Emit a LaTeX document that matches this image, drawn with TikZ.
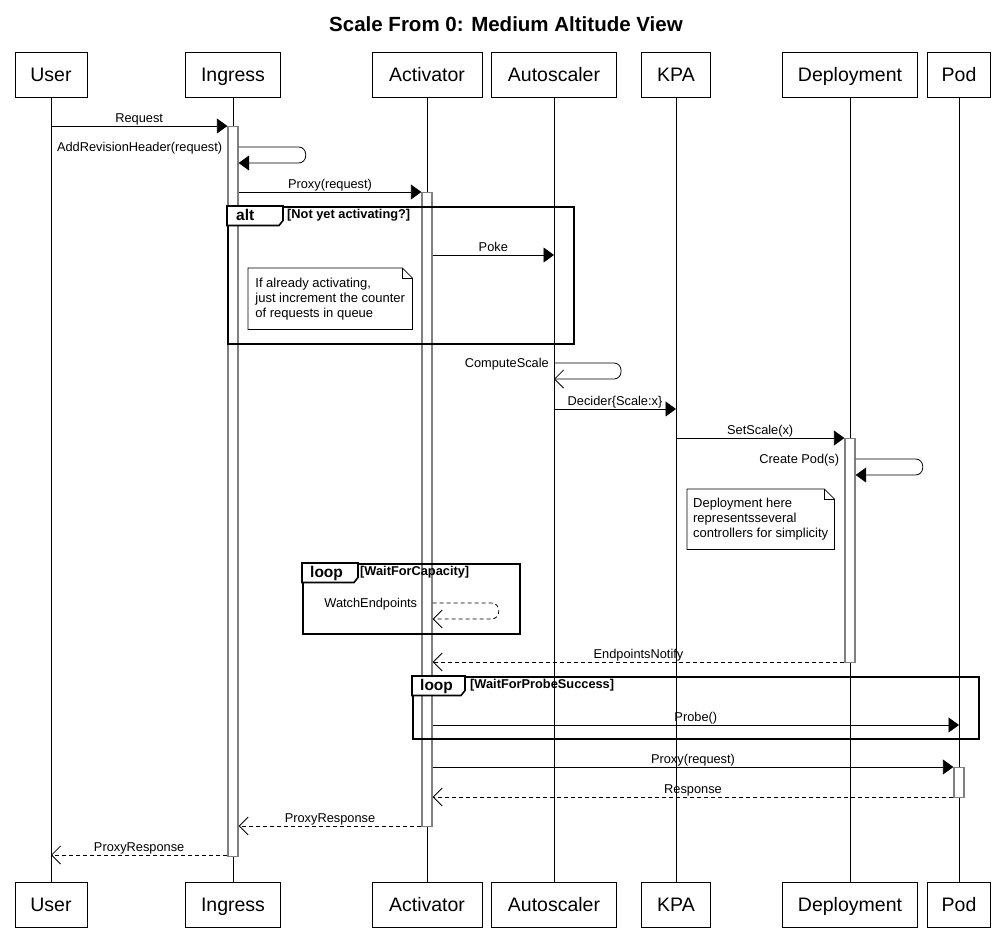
\documentclass[tikz,border=0pt]{standalone}
\usepackage{fontspec}
\setmainfont{Liberation Sans}
\usetikzlibrary{arrows.meta,calc}
\newcommand\msgfont{\fontsize{12.8}{15}\selectfont}
\newcommand\notefont{\fontsize{13}{15}\selectfont}
\newcommand\partfont{\fontsize{19.5}{22}\selectfont}
\newcommand\titlefont{\fontsize{20.5}{24}\selectfont\bfseries}
\newcommand\tabfont{\fontsize{15.5}{18}\selectfont\bfseries}
\newcommand\condfont{\fontsize{12.8}{15}\selectfont\bfseries}
\begin{document}
\begin{tikzpicture}[x=1pt,y=-1pt,
  part/.style={draw=black, line width=0.8pt, fill=white, minimum height=45pt, inner sep=0pt, text height=14pt, text depth=0pt, font=\partfont},
  life/.style={line width=0.8pt},
  actbar/.style={draw=black!50, line width=1.3pt, fill=white, minimum width=10pt, inner sep=0pt, anchor=north},
  msg/.style={line width=0.8pt, -{Triangle[length=10.5pt,width=15pt]}},
  opn/.style={line width=0.8pt, -{Straight Barb[length=9pt,width=18pt,line width=0.8pt]}},
  ret/.style={opn, dash pattern=on 4pt off 3pt},
  lbl/.style={font=\msgfont, inner sep=0pt, anchor=base},
  slbl/.style={font=\msgfont, inner sep=0pt, anchor=base east},
  frm/.style={draw=black, line width=1.6pt, inner sep=0pt, anchor=north west},
  tabbox/.style={draw=black, line width=1.6pt, fill=white, line join=miter},
  tablbl/.style={font=\tabfont, inner sep=0pt, anchor=base west},
  cond/.style={font=\condfont, inner sep=0pt, anchor=base west},
  notebox/.style={font=\notefont, align=left, inner sep=0pt, anchor=north west},
  noteline/.style={draw=black, line width=0.8pt, fill=white, line join=miter}
]
\useasboundingbox (0,0) rectangle (1006,951);

% title
\node[font=\titlefont, inner sep=0pt, anchor=base] (title) at (506,31) {Scale From 0: Medium Altitude View};

% participants
\node[part, minimum width=72pt]  (userT) at (51,74.5) {User};
\node[part, minimum width=95pt]  (ingT)  at (233,74.5) {Ingress};
\node[part, minimum width=110pt] (actT)  at (427,74.5) {Activator};
\node[part, minimum width=125pt] (autT)  at (554,74.5) {Autoscaler};
\node[part, minimum width=69pt]  (kpaT)  at (676,74.5) {KPA};
\node[part, minimum width=135pt] (depT)  at (850,74.5) {Deployment};
\node[part, minimum width=63pt]  (podT)  at (959,74.5) {Pod};

\node[part, minimum width=72pt]  (userB) at (51,904.5) {User};
\node[part, minimum width=95pt]  (ingB)  at (233,904.5) {Ingress};
\node[part, minimum width=110pt] (actB)  at (427,904.5) {Activator};
\node[part, minimum width=125pt] (autB)  at (554,904.5) {Autoscaler};
\node[part, minimum width=69pt]  (kpaB)  at (676,904.5) {KPA};
\node[part, minimum width=135pt] (depB)  at (850,904.5) {Deployment};
\node[part, minimum width=63pt]  (podB)  at (959,904.5) {Pod};

% lifelines
\foreach \p in {user,ing,act,aut,kpa,dep,pod}
  \draw[life] (\p T.south) -- (\p B.north);

% activation bars
\node[actbar, minimum height=730pt] (ingBar) at (233,126) {};
\node[actbar, minimum height=634pt] (actBar) at (427,192) {};
\node[actbar, minimum height=224pt] (depBar) at (850,438) {};
\node[actbar, minimum height=30pt]  (podBar) at (959,767) {};

% rows
\coordinate (r1) at (0,126);
\coordinate (r2) at (0,147);  \coordinate (r2b) at (0,163);
\coordinate (r3) at (0,192);
\coordinate (r4) at (0,255);
\coordinate (r5) at (0,363);  \coordinate (r5b) at (0,379);
\coordinate (r6) at (0,409);
\coordinate (r7) at (0,438);
\coordinate (r8) at (0,459);  \coordinate (r8b) at (0,475);
\coordinate (r9) at (0,603);  \coordinate (r9b) at (0,619);
\coordinate (r10) at (0,662);
\coordinate (r11) at (0,725);
\coordinate (r12) at (0,767);
\coordinate (r13) at (0,797);
\coordinate (r14) at (0,826);
\coordinate (r15) at (0,855);

% frames
\node[frm, minimum width=346pt, minimum height=137pt] (altF) at (227,206) {};
\draw[tabbox] (altF.north west) -- ++(56,0) -- ++(0,14.5) -- ++(-4,5) -- ++(-52,0) -- cycle;
\node[tablbl] (altL) at ($(altF.north west)+(9,14.5)$) {alt};
\node[cond] (altC) at ($(altF.north west)+(60,12)$) {[Not yet activating?]};

\node[frm, minimum width=217pt, minimum height=70pt] (loopA) at (302,563) {};
\draw[tabbox] (loopA.north west) -- ++(56,0) -- ++(0,14.5) -- ++(-4,5) -- ++(-52,0) -- cycle;
\node[tablbl] (loopAL) at ($(loopA.north west)+(8,14.5)$) {loop};
\node[cond] (loopAC) at ($(loopA.north west)+(58,12)$) {[WaitForCapacity]};

\node[frm, minimum width=566pt, minimum height=62pt] (loopB) at (412,676) {};
\draw[tabbox] (loopB.north west) -- ++(53,0) -- ++(0,14.5) -- ++(-4,5) -- ++(-49,0) -- cycle;
\node[tablbl] (loopBL) at ($(loopB.north west)+(8,14.5)$) {loop};
\node[cond] (loopBC) at ($(loopB.north west)+(58,12)$) {[WaitForProbeSuccess]};

% notes
\node[notebox, minimum width=164pt, minimum height=61pt] (note1) at (248,268) {};
\draw[noteline] (note1.north west) -- ($(note1.north east)+(-10,0)$) -- ($(note1.north east)+(0,10)$) -- (note1.south east) -- (note1.south west) -- cycle;
\draw[line width=0.8pt] ($(note1.north east)+(-10,0)$) |- ($(note1.north east)+(0,10)$);
\node[notebox, anchor=center] (note1t) at (note1.center) {If already activating,\\just increment the counter\\of requests in queue};

\node[notebox, minimum width=147pt, minimum height=60pt] (note2) at (687,489) {};
\draw[noteline] (note2.north west) -- ($(note2.north east)+(-10,0)$) -- ($(note2.north east)+(0,10)$) -- (note2.south east) -- (note2.south west) -- cycle;
\draw[line width=0.8pt] ($(note2.north east)+(-10,0)$) |- ($(note2.north east)+(0,10)$);
\node[notebox, anchor=center] (note2t) at (note2.center) {Deployment here\\representsseveral\\controllers for simplicity};

% messages
\draw[msg] (userT.south |- r1) -- (ingBar.west |- r1) node[lbl, midway, yshift=3.5pt] {Request};

\draw[msg, rounded corners=7pt] (ingBar.east |- r2) -- ++(67,0) |- (ingBar.east |- r2b);
\node[slbl] (l2) at ($(ingBar.west |- r2)+(-5,4.5)$) {AddRevisionHeader(request)};

\draw[msg] (ingBar.east |- r3) -- (actBar.west |- r3) node[lbl, midway, yshift=3.5pt] {Proxy(request)};

\draw[msg] (actBar.east |- r4) -- (autT.south |- r4) node[lbl, midway, yshift=3.5pt] {Poke};

\draw[opn, rounded corners=7pt] (autT.south |- r5) -- ++(67,0) |- (autT.south |- r5b);
\node[slbl] (l5) at ($(autT.south |- r5)+(-5,4.5)$) {ComputeScale};

\draw[msg] (autT.south |- r6) -- (kpaT.south |- r6) node[lbl, midway, yshift=3.5pt] {Decider\{Scale:x\}};

\draw[msg] (kpaT.south |- r7) -- (depBar.west |- r7) node[lbl, midway, yshift=3.5pt] {SetScale(x)};

\draw[msg, rounded corners=7pt] (depBar.east |- r8) -- ++(67,0) |- (depBar.east |- r8b);
\node[slbl] (l8) at ($(depBar.west |- r8)+(-5,4.5)$) {Create Pod(s)};

\draw[ret, rounded corners=7pt] (actBar.east |- r9) -- ++(66,0) |- (actBar.east |- r9b);
\node[slbl] (l9) at ($(actBar.west |- r9)+(-4,4.5)$) {WatchEndpoints};

\draw[ret] (depBar.west |- r10) -- (actBar.east |- r10) node[lbl, midway, yshift=3.5pt] {EndpointsNotify};

\draw[msg] (actBar.east |- r11) -- (podT.south |- r11) node[lbl, midway, yshift=3.5pt] {Probe()};

\draw[msg] (actBar.east |- r12) -- (podBar.west |- r12) node[lbl, midway, yshift=3.5pt] {Proxy(request)};

\draw[ret] (podBar.west |- r13) -- (actBar.east |- r13) node[lbl, midway, yshift=3.5pt] {Response};

\draw[ret] (actBar.west |- r14) -- (ingBar.east |- r14) node[lbl, midway, yshift=3.5pt] {ProxyResponse};

\draw[ret] (ingBar.west |- r15) -- (userT.south |- r15) node[lbl, midway, yshift=3.5pt] {ProxyResponse};
\end{tikzpicture}
\end{document}
